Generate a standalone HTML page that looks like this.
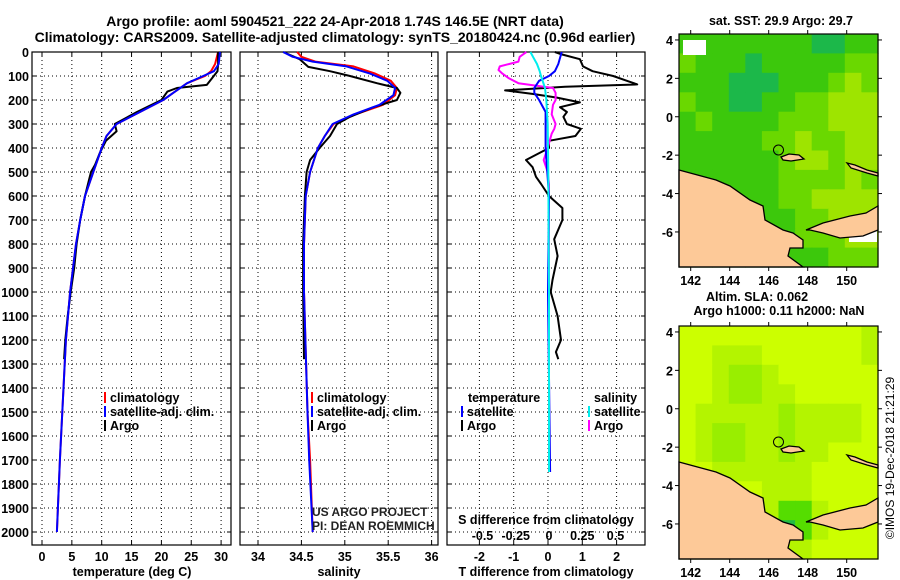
<!DOCTYPE html>
<html><head><meta charset="utf-8"><style>
html,body{margin:0;padding:0;background:#fff;}
svg{display:block;font-family:"Liberation Sans",sans-serif;}
.b{font-weight:bold;font-size:12.5px;}
</style></head><body>
<svg id="chart" width="900" height="580" viewBox="0 0 900 580" xmlns="http://www.w3.org/2000/svg"></svg>
<script>
// ---------- data ----------
const argoTDepth=[0,50,80,137,150,165,200,250,300,330,370,420,470,500,600,700,800,900,1000,1100,1200,1280];
const argoTemp=[29.5,29.5,29.4,27.6,22.6,21,20,15.9,12.2,12.5,10.7,9.7,8.9,8.2,7.2,6.4,5.8,5.4,4.8,4.3,3.9,3.7];
const climTDepth=[0,50,80,100,130,170,200,250,300,350,400,500,600,700,800,1000,1200,1500,1700,2000];
const climTemp=[29.5,29.0,28.3,27.3,24.3,22,20.3,16.4,12.5,10.8,10,8.6,7.2,6.4,5.7,4.7,4.0,3.4,3.0,2.5];
const satTemp=[29.8,29.6,28.8,27.0,24.3,22,20.3,16.4,12.5,10.8,10,8.6,7.2,6.4,5.7,4.7,4.0,3.4,3.0,2.5];
const argoSDepth=[0,30,62,80,100,130,150,170,200,230,270,300,350,400,450,500,600,800,1000,1280];
const argoSal=[34.29,34.48,34.58,34.83,35.06,35.37,35.6,35.64,35.6,35.33,35.06,34.91,34.83,34.71,34.6,34.56,34.54,34.52,34.52,34.53];
const climSDepth=[0,20,40,60,90,120,150,180,220,260,300,350,400,500,600,800,1000,1500,1700,2000];
const climSal=[34.45,34.5,34.66,35.1,35.35,35.53,35.6,35.58,35.44,35.12,34.87,34.77,34.69,34.6,34.55,34.53,34.53,34.57,34.6,34.63];
const satSal=[34.29,34.4,34.63,35.02,35.29,35.49,35.58,35.56,35.4,35.1,34.86,34.77,34.69,34.6,34.55,34.53,34.53,34.57,34.59,34.63];
const dArgoTDepth=[0,10,30,60,80,100,120,135,145,160,175,190,210,230,250,270,300,320,350,370,400,450,480,520,550,600,650,700,780,850,950,1000,1100,1200,1250,1280];
const dArgoT=[0.2,0.4,0.93,1.02,1.3,1.9,2.3,2.6,0.5,-1.25,-0.43,0.26,0.93,0.35,0.55,0.45,0.55,0.96,0.8,0.03,0.03,-0.64,-0.45,-0.35,-0.2,0.03,0.42,0.42,0.18,0.28,0.13,0.08,0.28,0.38,0.23,0.3];
const dArgoSDepth=[0,20,40,60,75,90,110,130,150,170,200,220,260,300,320,340,380,400,450,500,550,600,1000,1280];
const dArgoS=[-0.17,-0.22,-0.23,-0.37,-0.38,-0.35,-0.3,-0.23,0.03,0.05,0.05,0.03,0.02,0.05,0.04,0.02,0,-0.01,-0.04,-0.01,0,0,0,0];
const dSatTDepth=[0,50,80,100,120,150,170,200,250,300,400,600,1000,1750];
const dSatT=[0.4,0.3,0.2,0.03,-0.26,-0.4,-0.4,-0.26,-0.07,-0.07,-0.07,0.03,0.0,0.06];
const dSatSDepth=[0,20,50,80,100,150,200,300,500,1000,1750];
const dSatS=[-0.14,-0.12,-0.09,-0.07,-0.06,-0.03,-0.02,-0.01,-0.005,0,0];
const depthTicks=[0,100,200,300,400,500,600,700,800,900,1000,1100,1200,1300,1400,1500,1600,1700,1800,1900,2000];
const tempTicks=[0,5,10,15,20,25,30];
const salTicks=[34,34.5,35,35.5,36];
const dTTicks=[-2,-1,0,1,2];
const dSTicks=[-0.5,-0.25,0,0.25,0.5];
const dSTickLabels=['-0.5','-0.25','0','0.25','0.5'];
const latTicks=[4,2,0,-2,-4,-6];
const lonTicks=[142,144,146,148,150];
const sstGrid=["111111110011","211101111122","111000111232","211001122333","121111222333","111112232233","111111233233","111111222232","111111223333","111111122333","111111122233","111111111222"];
const slaGrid=["444444444443","443334444443","443223444444","443223344444","433333233334","432233233334","432233233444","443333334444","444443334444","444443113444","444443013444","444444334444"];

// ---------- helpers ----------
const NS='http://www.w3.org/2000/svg';
const svg=document.getElementById('chart');
function mk(tag,attrs,parent){const e=document.createElementNS(NS,tag);for(const k in attrs)e.setAttribute(k,attrs[k]);(parent||svg).appendChild(e);return e;}
function txt(x,y,s,anchor,cls,parent){const t=mk('text',{x:x,y:y,'text-anchor':anchor||'middle','class':cls||'b'},parent);t.textContent=s;return t;}
const yD=d=>52+d*0.24;
const Y0=52,Y1=545;
const xT=t=>42+t*5.97;
const xS=s=>258+(s-34)*86.8;
const xdT=v=>548+v*34.3;
const xdS=v=>549+v*133;

// titles
let t1=txt(335,26,'Argo profile: aoml 5904521_222 24-Apr-2018 1.74S 146.5E (NRT data)');


t1.setAttribute('style','font-size:14px');
let t2=txt(335,42,'Climatology: CARS2009. Satellite-adjusted climatology: synTS_20180424.nc (0.96d earlier)');


t2.setAttribute('style','font-size:14px');

function panel(name,x0,x1,xticksPos){
  const g=mk('g',{});
  
  
  depthTicks.forEach(d=>{
    const l=mk('line',{x1:x0,x2:x1,y1:yD(d),y2:yD(d),stroke:'#000','stroke-width':1,'stroke-dasharray':'1,3'},g);
    
    
    mk('line',{x1:x0,x2:x0+4,y1:yD(d),y2:yD(d),stroke:'#000'},g);
    mk('line',{x1:x1-4,x2:x1,y1:yD(d),y2:yD(d),stroke:'#000'},g);
  });
  xticksPos.forEach(x=>{
    const l=mk('line',{x1:x,x2:x,y1:Y0,y2:Y1,stroke:'#000','stroke-width':1,'stroke-dasharray':'1,3'},g);
    
    
    mk('line',{x1:x,x2:x,y1:Y0,y2:Y0+4,stroke:'#000'},g);
    mk('line',{x1:x,x2:x,y1:Y1-4,y2:Y1,stroke:'#000'},g);
  });
  const r=mk('rect',{x:x0,y:Y0,width:x1-x0,height:Y1-Y0,fill:'none',stroke:'#000','stroke-width':1.2},g);
  
  
  return g;
}
function line(depths,vals,xf,color,name,parent){
  const pts=depths.map((d,i)=>xf(vals[i]).toFixed(1)+','+yD(d).toFixed(1)).join(' ');
  const p=mk('polyline',{points:pts,fill:'none',stroke:color,'stroke-width':2,'stroke-linejoin':'round'},parent);
  
  
  return p;
}
depthTicks.forEach(d=>{
  const t=txt(29,yD(d)+5,String(d),'end');
  
  
});

// panel 1: temperature
const g1=panel('temperature-panel',32,231,tempTicks.map(xT));
tempTicks.forEach(v=>{const t=txt(xT(v),561,String(v));});
let a1=txt(132,576,'temperature (deg C)');
line(climTDepth,climTemp,xT,'#f00','climatology-temperature-line',g1);
line(argoTDepth,argoTemp,xT,'#000','argo-temperature-line',g1);
line(climTDepth,satTemp,xT,'#00f','satellite-temperature-line',g1);

// panel 2: salinity
const g2=panel('salinity-panel',240,438,salTicks.map(xS));
salTicks.forEach(v=>{const t=txt(xS(v),561,String(v));});
let a2=txt(339,576,'salinity');
line(climSDepth,climSal,xS,'#f00','climatology-salinity-line',g2);
line(argoSDepth,argoSal,xS,'#000','argo-salinity-line',g2);
line(climSDepth,satSal,xS,'#00f','satellite-salinity-line',g2);

// panel 3: differences
const g3=panel('difference-panel',447,645,dTTicks.map(xdT));
dTTicks.forEach(v=>{const t=txt(xdT(v),561,String(v));});
let a3=txt(546,576,'T difference from climatology');
dSTicks.forEach((v,i)=>{const t=txt(xdS(v),540,dSTickLabels[i]);});
let a4=txt(546,524,'S difference from climatology');
line(dArgoTDepth,dArgoT,xdT,'#000','argo-t-difference-line',g3);
line(dArgoSDepth,dArgoS,xdS,'#f0f','argo-s-difference-line',g3);
line(dSatTDepth,dSatT,xdT,'#00f','satellite-t-difference-line',g3);
line(dSatSDepth,dSatS,xdS,'#0ee','satellite-s-difference-line',g3);

// legends
function legend(x,y,color,label,name){
  const g=mk('g',{});
  
  
  mk('rect',{x:x,y:y-10,width:2,height:11,fill:color},g);
  txt(x+6,y,label,'start','b',g);
}
legend(104,402,'#f00','climatology','legend-climatology');
legend(104,416,'#00f','satellite-adj. clim.','legend-satellite-adj');
legend(104,430,'#000','Argo','legend-argo');
legend(311,402,'#f00','climatology','legend-climatology-salinity');
legend(311,416,'#00f','satellite-adj. clim.','legend-satellite-adj-salinity');
legend(311,430,'#000','Argo','legend-argo-salinity');
let lt=txt(468,402,'temperature','start');
let ls=txt(594,402,'salinity','start');
legend(461,416,'#00f','satellite','legend-t-satellite');
legend(461,430,'#000','Argo','legend-t-argo');
legend(588,416,'#0ee','satellite','legend-s-satellite');
legend(588,430,'#f0f','Argo','legend-s-argo');
let c1=txt(312,516,'US ARGO PROJECT','start','');c1.setAttribute('style','font-size:12px;fill:#222');
let c2=txt(312,530,'PI: DEAN ROEMMICH','start','');c2.setAttribute('style','font-size:12px;fill:#222');

// ---------- maps ----------
const MW=199,MH=233;
const mainland=[[0,136],[37,146],[51,152],[71,166],[84,172],[86,186],[104,196],[114,199],[124,206],[124,214],[111,214],[109,222],[124,233],[0,233]];
const peninsula=[[127,196],[144,189],[171,182],[187,179],[199,172],[199,196],[184,202],[161,204],[144,199],[131,196]];
const island1=[[102,123],[110,120],[120,121],[125,125],[112,127],[104,126]];
const island2=[[168,129],[176,131],[188,136],[199,139],[199,142],[188,139],[172,134]];
const sstCol=['#1cb84a','#3cc80c','#6ad800','#9ee400','#e0dc00'];
const slaCol=['#22bb44','#55dd00','#99ee00','#b4f400','#ccff00'];
function map(name,ox,oy,grid,cols,white){
  const g=mk('g',{});
  
  
  const cw=MW/12,ch=MH/12;
  grid.forEach((row,r)=>{for(let c=0;c<12;c++){
    const cell=mk('rect',{x:(ox+c*cw).toFixed(1),y:(oy+r*ch).toFixed(1),width:(cw+0.6).toFixed(1),height:(ch+0.6).toFixed(1),fill:cols[+row[c]]},g);
    
    
  }});
  if(white){mk('rect',{x:ox+4,y:oy+6,width:23,height:15,fill:'#fff'},g);mk('rect',{x:ox+170,y:oy+194,width:28,height:14,fill:'#fff'},g);}
  [mainland,peninsula,island1,island2].forEach(poly=>{
    const p=mk('polygon',{points:poly.map(q=>(ox+q[0])+','+(oy+q[1])).join(' '),fill:'#fdc998',stroke:'#000','stroke-width':1.3},g);
    
    
  });
  const ring=mk('circle',{cx:ox+99.5,cy:oy+116,r:5,fill:'none',stroke:'#000','stroke-width':1},g);
  
  
  mk('rect',{x:ox,y:oy,width:MW,height:MH,fill:'none',stroke:'#000','stroke-width':1.2},g);
  latTicks.forEach(l=>{const y=oy+(4.31-l)*19.2;mk('line',{x1:ox-4,x2:ox,y1:y,y2:y,stroke:'#000'},g);mk('line',{x1:ox+MW,x2:ox+MW+4,y1:y,y2:y,stroke:'#000'},g);
    const t=txt(ox-6,y+5,String(l),'end','b',g);});
  lonTicks.forEach(l=>{const x=ox+(l-141.4)*19.5;mk('line',{x1:x,x2:x,y1:oy-4,y2:oy,stroke:'#000'},g);mk('line',{x1:x,x2:x,y1:oy+MH,y2:oy+MH+4,stroke:'#000'},g);
    const t=txt(x,oy+MH+18,String(l),'middle','b',g);});
}
map('sst-map',679,34,sstGrid,sstCol,true);
map('sla-map',679,326,slaGrid,slaCol,false);
let m1=txt(781,25,'sat. SST: 29.9 Argo: 29.7');
let m2=txt(757,301,'Altim. SLA: 0.062');
let m3=txt(779,315,'Argo h1000: 0.11 h2000: NaN');
let im=mk('text',{x:0,y:0,'text-anchor':'middle',transform:'translate(894,458) rotate(-90)',style:'font-size:12px'});
im.textContent='©IMOS 19-Dec-2018 21:21:29';


</script>
</body></html>
